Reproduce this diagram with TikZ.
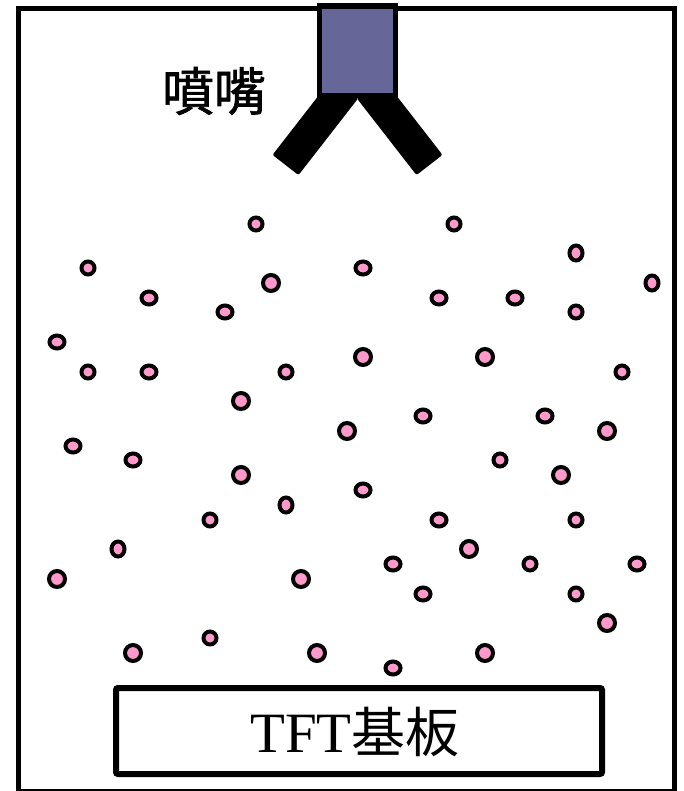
\documentclass[tikz,border=0pt]{standalone}
\usepackage{fontspec}
\setmainfont{Liberation Serif}
\newfontfamily\cjk{Noto Sans CJK TC}
\newfontfamily\cjkmid[FakeBold=1.3]{Noto Sans CJK TC}
\usetikzlibrary{shapes.geometric}
\definecolor{nozzleblue}{RGB}{102,102,153}
\definecolor{droppink}{RGB}{255,153,204}
\tikzset{
  frame/.style={draw=black, line width=5pt},
  arm/.style={fill=black, draw=none, rounded corners=2pt},
  nozzlebody/.style={fill=nozzleblue, draw=black, line width=5.5pt},
  dropbase/.style={ellipse, draw=black, fill=droppink, line width=4pt, inner sep=0pt},
  dropc/.style={dropbase, minimum width=16pt, minimum height=16pt},
  dropw/.style={dropbase, minimum width=15pt, minimum height=13pt},
  dropt/.style={dropbase, minimum width=13pt, minimum height=15pt},
  drops/.style={dropbase, minimum width=13pt, minimum height=13pt},
  substrate/.style={draw=black, line width=6pt, rounded corners=2pt}
}
\begin{document}
\begin{tikzpicture}[x=1pt, y=-1pt]
\useasboundingbox (0,0) rectangle (683,791);
% chamber walls
\draw[frame] (18.5,8.5) rectangle (674,791.5);
% nozzle arms, then the nozzle body on top
\fill[arm] (332.2,78.1) -- (358.2,98.3) -- (298.5,175.1) -- (272.5,154.9) -- cycle;
\fill[arm] (382.8,78.1) -- (356.8,98.3) -- (416.5,175.1) -- (442.5,154.9) -- cycle;
\draw[nozzlebody] (319.5,6) rectangle (395.5,95.5);
\node[font=\cjkmid\fontsize{52}{52}\selectfont] (nozzlelabel) at (214,91) {噴嘴};
% substrate
\draw[substrate] (116,688) rectangle (602,774);
\node (tft) at (355,732) {\fontsize{57}{57}\selectfont TFT{\cjk\fontsize{54}{54}\selectfont 基板}};
% sprayed droplets
\foreach \x/\y [count=\i] in {271/283, 363/357, 485/357, 241/401, 241/475, 57/579, 301/579, 133/653, 317/653, 347/431, 607/431, 561/475, 469/549, 607/623, 485/653}
  \node[dropc] (dc\i) at (\x,\y) {};
\foreach \x/\y [count=\i] in {149/298, 225/312, 57/342, 149/372, 363/268, 439/298, 515/298, 73/446, 133/460, 423/416, 545/416, 363/490, 439/520, 393/564, 637/564, 423/594, 393/668}
  \node[dropw] (dw\i) at (\x,\y) {};
\foreach \x/\y [count=\i] in {576/253, 652/283, 286/505, 118/549}
  \node[dropt] (dt\i) at (\x,\y) {};
\foreach \x/\y [count=\i] in {256/224, 88/268, 88/372, 286/372, 454/224, 576/312, 622/372, 210/520, 210/638, 500/460, 576/520, 530/564, 576/594}
  \node[drops] (ds\i) at (\x,\y) {};
\end{tikzpicture}
\end{document}
